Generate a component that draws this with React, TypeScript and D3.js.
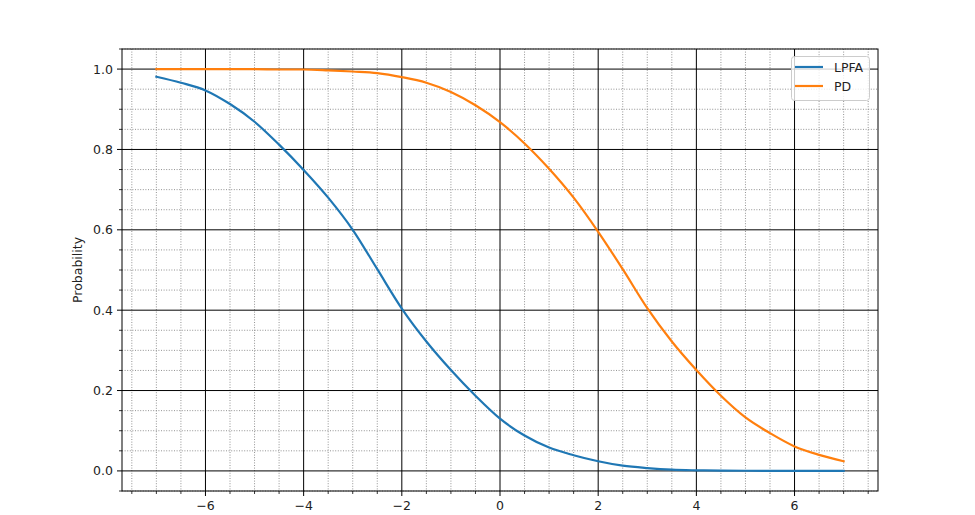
import React from "react";
import * as d3 from "d3";

const xValues = [-7, -6.5, -6, -5.5, -5, -4.5, -4, -3.5, -3, -2.5, -2, -1.5, -1, -0.5, 0, 0.5, 1, 1.5, 2, 2.5, 3, 3.5, 4, 4.5, 5, 5.5, 6, 6.5, 7];
const lpfa = [0.981, 0.966, 0.947, 0.913, 0.869, 0.812, 0.749, 0.68, 0.6, 0.502, 0.404, 0.322, 0.251, 0.187, 0.13, 0.088, 0.058, 0.039, 0.024, 0.013, 0.007, 0.003, 0.0015, 0.0008, 0.0004, 0.0002, 0.0001, 0.0001, 0.0001];
const pd = [1.0, 1.0, 1.0, 1.0, 1.0, 0.999, 0.999, 0.997, 0.994, 0.99, 0.98, 0.966, 0.943, 0.91, 0.868, 0.815, 0.752, 0.68, 0.595, 0.502, 0.405, 0.322, 0.251, 0.187, 0.133, 0.094, 0.061, 0.04, 0.024];
const seriesNames = ["LPFA", "PD"];
const seriesColors = ["#1f77b4", "#ff7f0e"];
const xTicks = [-6, -4, -2, 0, 2, 4, 6];
const yTicks = [0, 0.2, 0.4, 0.6, 0.8, 1.0];

export default function App() {
  const W = 975, H = 515;
  const left = 122, right = 878, top = 49, bottom = 491;
  const x = d3.scaleLinear().domain([-7.7, 7.7]).range([left, right]);
  const y = d3.scaleLinear().domain([-0.05, 1.05]).range([bottom, top]);
  const xMinor = d3.range(-7.5, 7.51, 0.5).filter((v) => Math.abs(v % 2) > 1e-9);
  const yMinor = d3.range(-0.05, 1.051, 0.05).map((v) => Math.round(v * 100) / 100).filter((v) => Math.abs((v * 100) % 20) > 1e-6);
  const line = d3.line<number>().x((_, i) => x(xValues[i])).y((d) => y(d)).curve(d3.curveMonotoneX);
  const data = [lpfa, pd];
  const font = "DejaVu Sans, sans-serif";
  const fmtY = (v: number) => v.toFixed(1);
  const fmtX = (v: number) => (v < 0 ? "\u2212" + Math.abs(v) : String(v));
  return (
    <svg width={W} height={H} style={{ position: "absolute", left: 0, top: 0 }}>
      <rect width={W} height={H} fill="#fff" />
      <defs>
        <clipPath id="clip"><rect x={left} y={top} width={right - left} height={bottom - top} /></clipPath>
      </defs>
      {/* minor grid */}
      {xMinor.map((v) => (
        <line key={"xm" + v} x1={x(v)} x2={x(v)} y1={top} y2={bottom} stroke="#777" strokeWidth={0.8} strokeDasharray="1,1.6" />
      ))}
      {yMinor.map((v) => (
        <line key={"ym" + v} x1={left} x2={right} y1={y(v)} y2={y(v)} stroke="#777" strokeWidth={0.8} strokeDasharray="1,1.6" />
      ))}
      {/* major grid */}
      {xTicks.map((v) => (
        <line key={"xg" + v} x1={x(v)} x2={x(v)} y1={top} y2={bottom} stroke="#000" strokeWidth={1} />
      ))}
      {yTicks.map((v) => (
        <line key={"yg" + v} x1={left} x2={right} y1={y(v)} y2={y(v)} stroke="#000" strokeWidth={1} />
      ))}
      {/* lines */}
      <g clipPath="url(#clip)">
        {data.map((d, i) => (
          <path key={i} d={line(d) || ""} fill="none" stroke={seriesColors[i]} strokeWidth={2.2} strokeLinejoin="round" strokeLinecap="square" />
        ))}
      </g>
      {/* spines */}
      <rect x={left} y={top} width={right - left} height={bottom - top} fill="none" stroke="#000" strokeWidth={1} />
      {/* ticks */}
      {xTicks.map((v) => (
        <g key={"xt" + v}>
          <line x1={x(v)} x2={x(v)} y1={bottom} y2={bottom + 5} stroke="#000" strokeWidth={1} />
          <text x={x(v)} y={bottom + 19} textAnchor="middle" fontFamily={font} fontSize={12.5} fill="#222">{fmtX(v)}</text>
        </g>
      ))}
      {xMinor.map((v) => (
        <line key={"xmt" + v} x1={x(v)} x2={x(v)} y1={bottom} y2={bottom + 3} stroke="#000" strokeWidth={0.8} />
      ))}
      {yTicks.map((v) => (
        <g key={"yt" + v}>
          <line x1={left - 5} x2={left} y1={y(v)} y2={y(v)} stroke="#000" strokeWidth={1} />
          <text x={left - 9} y={y(v) + 4.5} textAnchor="end" fontFamily={font} fontSize={12.5} fill="#222">{fmtY(v)}</text>
        </g>
      ))}
      {yMinor.map((v) => (
        <line key={"ymt" + v} x1={left - 3} x2={left} y1={y(v)} y2={y(v)} stroke="#000" strokeWidth={0.8} />
      ))}
      <text transform={`translate(${82},${(top + bottom) / 2}) rotate(-90)`} textAnchor="middle" fontFamily={font} fontSize={12.5} fill="#222">Probability</text>
      {/* legend */}
      <g>
        <rect x={791.5} y={56.5} width={78} height={44} rx={3} fill="#fff" fillOpacity={0.8} stroke="#ccc" strokeWidth={1} />
        {seriesNames.map((n, i) => (
          <g key={n}>
            <line x1={795} x2={823} y1={67 + i * 19} y2={67 + i * 19} stroke={seriesColors[i]} strokeWidth={2.2} />
            <text x={834} y={71.5 + i * 19} fontFamily={font} fontSize={12.5} fill="#222">{n}</text>
          </g>
        ))}
      </g>
    </svg>
  );
}
